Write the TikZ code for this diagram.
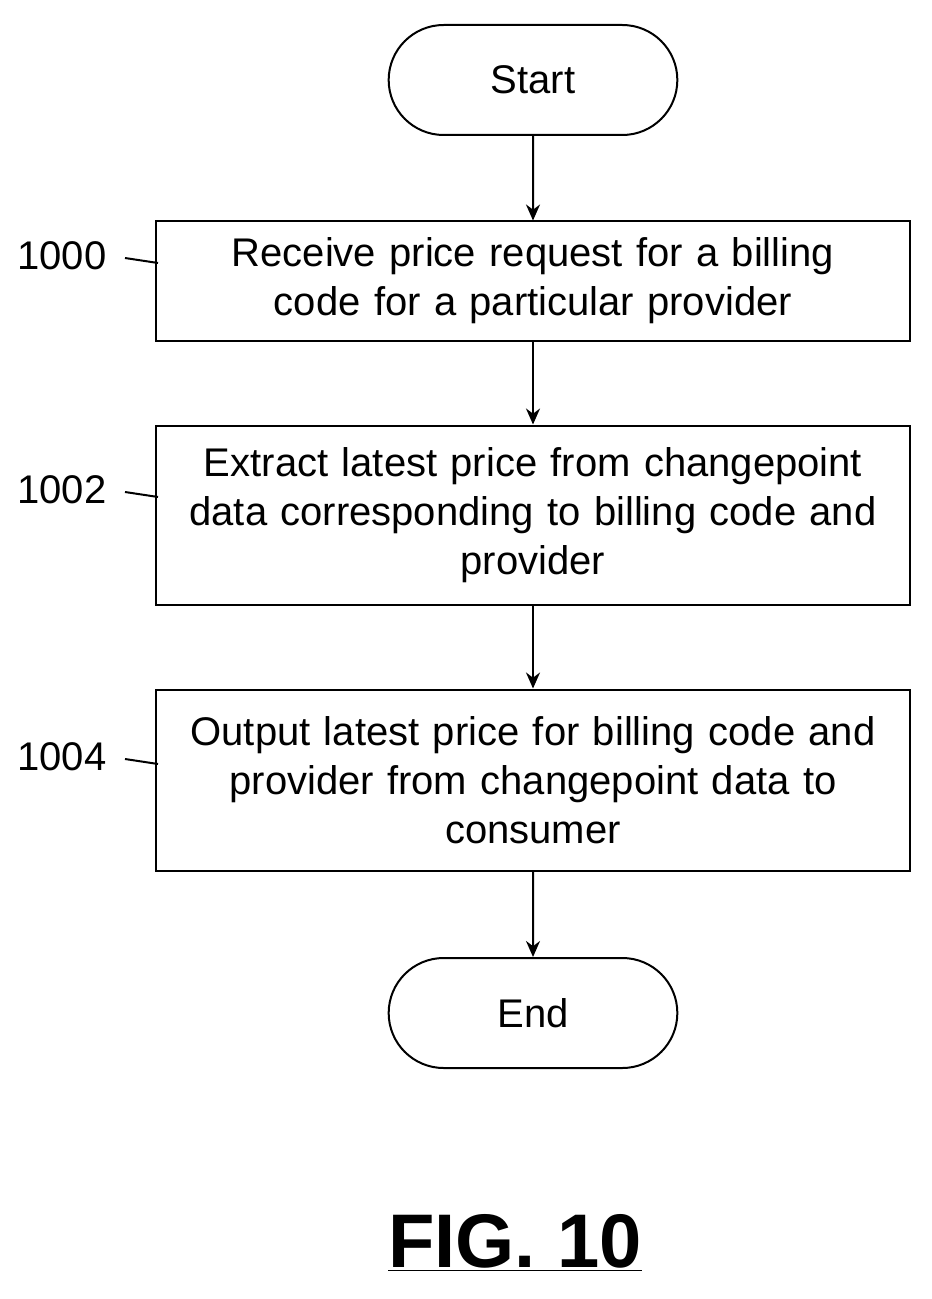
\documentclass[tikz,border=0pt]{standalone}
\usepackage{fontspec}
\setmainfont{Liberation Sans}
\usetikzlibrary{shapes.misc, arrows.meta}

\tikzset{
  term/.style={draw, line width=1pt, rounded rectangle, minimum width=151pt, minimum height=55pt, font=\fontsize{20}{24}\selectfont},
  procbox/.style={draw, line width=1pt, rectangle, minimum width=375.5pt, text width=370pt, align=center, font=\fontsize{20}{24.5}\selectfont},
  flow/.style={-{Stealth[length=8pt,width=7pt]}, line width=1pt},
  lbl/.style={font=\fontsize{20}{24}\selectfont}
}

\begin{document}
\begin{tikzpicture}[x=0.5pt, y=-0.5pt]
  \useasboundingbox (0,0) rectangle (931,1299);
  \node[term] (start) at (533,80) {Start};
  \node[procbox, minimum height=59.5pt] (s1000) at (533,281) {Receive price request for a billing\\ code for a particular provider};
  \node[procbox, minimum height=89.5pt] (s1002) at (533,515) {Extract latest price from changepoint\\ data corresponding to billing code and\\ provider};
  \node[procbox, minimum height=90.5pt] (s1004) at (533,780) {Output latest price for billing code and\\ provider from changepoint data to\\ consumer};
  \node[term] (end) at (533,1013) {End};

  \draw[flow] (start) -- (s1000);
  \draw[flow] (s1000) -- (s1002);
  \draw[flow] (s1002) -- (s1004);
  \draw[flow] (s1004) -- (end);

  % step numbers
  \node[lbl] (n1000) at (62,256) {1000};
  \node[lbl] (n1002) at (62,490) {1002};
  \node[lbl] (n1004) at (62,757) {1004};
  \draw[line width=1pt] (125,258) -- (158,263);
  \draw[line width=1pt] (125,492) -- (158,497);
  \draw[line width=1pt] (125,759) -- (158,764);

  \node (fig) at (515,1243) {\fontsize{38}{44}\selectfont\bfseries\underline{FIG. 10}};
\end{tikzpicture}
\end{document}
